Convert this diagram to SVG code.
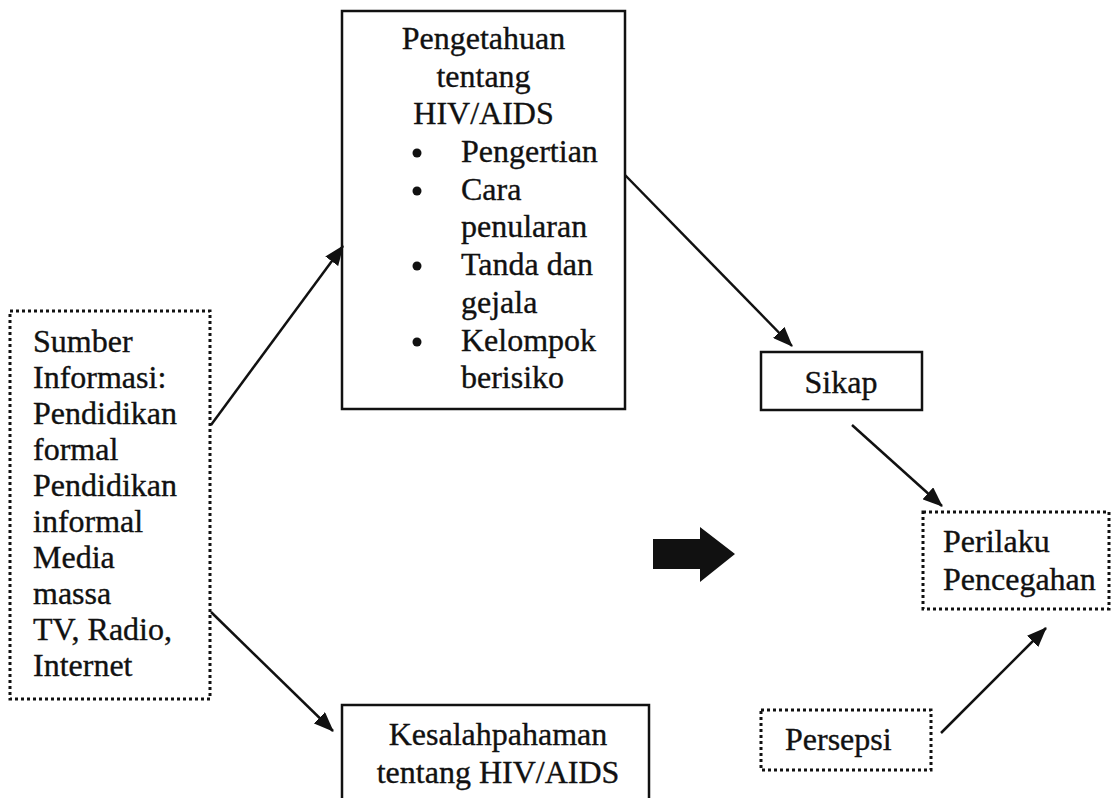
<svg xmlns="http://www.w3.org/2000/svg" width="1113" height="798" viewBox="0 0 1113 798">
<defs>
<style>
text{font-family:"Liberation Serif","Times New Roman",serif;font-size:32px;fill:#111;stroke:#111;stroke-width:0.35px;}
.mid{text-anchor:middle;}
.solid{fill:#fff;stroke:#111;stroke-width:2.5;}
.dot{fill:#fff;stroke:#111;stroke-width:3;stroke-dasharray:3 3;}
.conn{stroke:#111;stroke-width:2.5;fill:none;marker-end:url(#ah);}
</style>
<marker id="ah" markerUnits="userSpaceOnUse" markerWidth="20" markerHeight="16" refX="19" refY="8" orient="auto">
<path d="M0,0 L20,8 L0,16 z" fill="#111"/>
</marker>
</defs>
<rect width="1113" height="798" fill="#fff"/>

<g id="pengetahuan">
<rect class="solid" x="342" y="11" width="283" height="398"/>
<text class="mid" x="483.5" y="49">Pengetahuan</text>
<text class="mid" x="483.5" y="87">tentang</text>
<text class="mid" x="483.5" y="124">HIV/AIDS</text>
<circle cx="417" cy="153" r="4.5" fill="#111"/>
<text x="461" y="162">Pengertian</text>
<circle cx="417" cy="191" r="4.5" fill="#111"/>
<text x="461" y="200">Cara</text>
<text x="461" y="237">penularan</text>
<circle cx="417" cy="266" r="4.5" fill="#111"/>
<text x="461" y="275">Tanda dan</text>
<text x="461" y="313">gejala</text>
<circle cx="417" cy="342" r="4.5" fill="#111"/>
<text x="461" y="351">Kelompok</text>
<text x="461" y="388">berisiko</text>
</g>

<g id="sumber">
<rect class="dot" x="10" y="311" width="200" height="388"/>
<text x="33" y="352">Sumber</text>
<text x="33" y="388">Informasi:</text>
<text x="33" y="424">Pendidikan</text>
<text x="33" y="460">formal</text>
<text x="33" y="496">Pendidikan</text>
<text x="33" y="532">informal</text>
<text x="33" y="568">Media</text>
<text x="33" y="604">massa</text>
<text x="33" y="640">TV, Radio,</text>
<text x="33" y="676">Internet</text>
</g>

<g id="sikap">
<rect class="solid" x="761" y="352" width="161" height="58"/>
<text class="mid" x="841" y="393">Sikap</text>
</g>

<g id="perilaku">
<rect class="dot" x="923" y="512" width="186" height="97"/>
<text x="943" y="552">Perilaku</text>
<text x="943" y="590">Pencegahan</text>
</g>

<g id="persepsi">
<rect class="dot" x="761" y="710" width="170" height="60"/>
<text x="785" y="750">Persepsi</text>
</g>

<g id="kesalahpahaman">
<rect class="solid" x="342" y="705" width="307" height="100"/>
<text class="mid" x="498" y="745">Kesalahpahaman</text>
<text class="mid" x="498" y="783">tentang HIV/AIDS</text>
</g>

<g id="connectors">
<line class="conn" x1="211" y1="425" x2="343" y2="246"/>
<line class="conn" x1="211" y1="612" x2="333" y2="731"/>
<line class="conn" x1="625" y1="175" x2="792" y2="346"/>
<line class="conn" x1="852" y1="425" x2="942" y2="506"/>
<line class="conn" x1="941" y1="733" x2="1046" y2="628"/>
<path d="M653,539 L700,539 L700,527 L735,554 L700,582 L700,569 L653,569 z" fill="#111"/>
</g>
</svg>
